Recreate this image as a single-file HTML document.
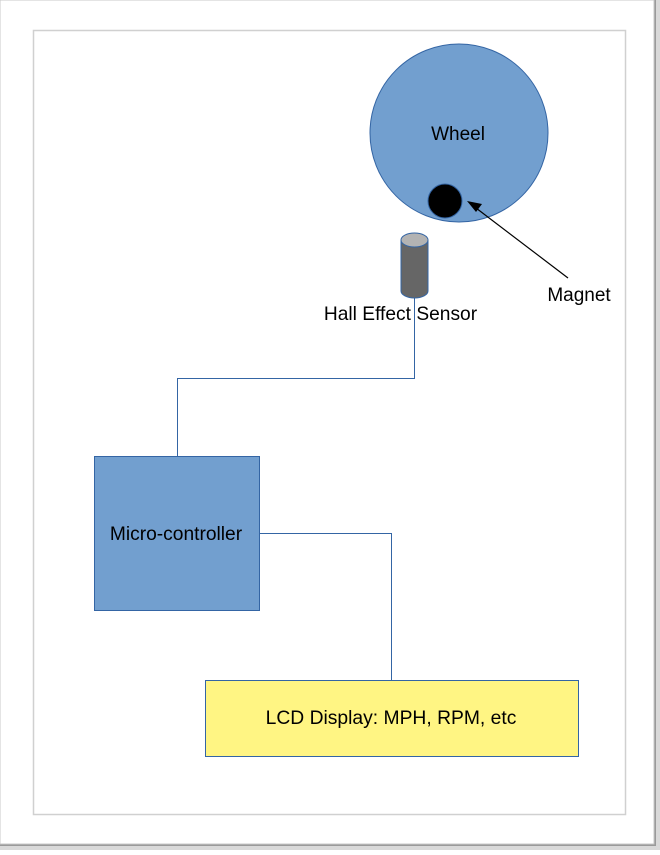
<!DOCTYPE html>
<html><head><style>
html,body{margin:0;padding:0;background:#fff;}
</style></head><body>
<svg width="660" height="850" xmlns="http://www.w3.org/2000/svg" font-family="Liberation Sans, sans-serif">
<rect x="0" y="0" width="660" height="850" fill="#d9d9d9"/>
<rect x="0" y="0" width="656" height="846" fill="#9a9a9a"/>
<rect x="0" y="0" width="654" height="844" fill="#fff" stroke="#c8c8c8" stroke-width="1"/>
<rect x="33.5" y="30.5" width="592" height="784" fill="none" stroke="#d0d0d0" stroke-width="1.5"/>
<ellipse cx="459" cy="133" rx="89" ry="89" fill="#729fcf" stroke="#3465a4" stroke-width="1"/>
<text x="458" y="140" font-size="19" text-anchor="middle" fill="#000">Wheel</text>
<circle cx="445" cy="201" r="17" fill="#000" stroke="#3465a4" stroke-width="1"/>
<line x1="568" y1="278" x2="476" y2="208" stroke="#000" stroke-width="1.2"/>
<polygon points="467,201 482,204 476,212" fill="#000"/>
<text x="579" y="301" font-size="19" text-anchor="middle">Magnet</text>
<path d="M401,240 L401,291 A13.5,7 0 0 0 428,291 L428,240 Z" fill="#666" stroke="#3465a4" stroke-width="1"/>
<ellipse cx="414.5" cy="240" rx="13.5" ry="7" fill="#b3b3b3" stroke="#3465a4" stroke-width="1"/>
<text x="400.5" y="320" font-size="19.2" text-anchor="middle">Hall Effect Sensor</text>
<polyline points="414.5,298 414.5,378.5 177.5,378.5 177.5,456" fill="none" stroke="#3465a4" stroke-width="1"/>
<rect x="94.5" y="456.5" width="165" height="154" fill="#729fcf" stroke="#3465a4" stroke-width="1"/>
<text x="176" y="540" font-size="19.2" text-anchor="middle">Micro-controller</text>
<polyline points="259.5,533.5 391.5,533.5 391.5,680" fill="none" stroke="#3465a4" stroke-width="1"/>
<rect x="205.5" y="680.5" width="373" height="76" fill="#fff583" stroke="#3465a4" stroke-width="1"/>
<text x="391" y="724" font-size="19.3" text-anchor="middle">LCD Display: MPH, RPM, etc</text>
</svg>
</body></html>
